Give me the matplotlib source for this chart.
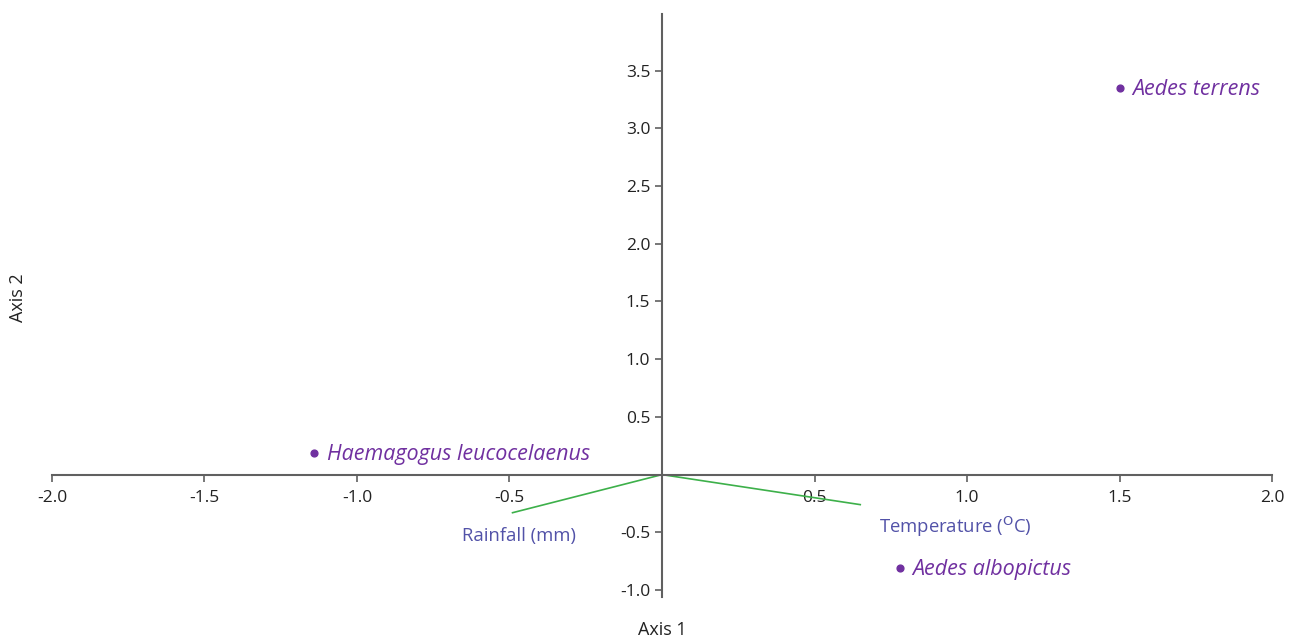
import matplotlib
matplotlib.use("Agg")
import matplotlib.pyplot as plt

# especies (puntuaciones en los ejes)
especies = ["Aedes terrens", "Haemagogus leucocelaenus", "Aedes albopictus"]
eje1 = [1.50, -1.14, 0.78]
eje2 = [3.35, 0.19, -0.81]

# variables ambientales (vectores)
variables = ["Rainfall (mm)", r"Temperature ($^{\mathrm{O}}$C)"]
var_x = [-0.49, 0.65]
var_y = [-0.33, -0.26]

xticks = [-2.0, -1.5, -1.0, -0.5, 0.5, 1.0, 1.5, 2.0]
yticks = [-1.0, -0.5, 0.5, 1.0, 1.5, 2.0, 2.5, 3.0, 3.5]

plt.rcParams["font.family"] = ["Open Sans", "DejaVu Sans"]

fig = plt.figure(figsize=(12.96, 6.4), dpi=100)
ax = fig.add_axes([0.0401, 0.0672, 0.9414, 0.911])

morado = "#7030A0"
azul = "#5252A8"
verde = "#3DB04A"
gris = "#606060"

# vectores
for vx, vy in zip(var_x, var_y):
    ax.plot([0, vx], [0, vy], color=verde, lw=1.2, zorder=2)
ax.text(-0.47, -0.53, variables[0], color=azul, fontsize=13.3, ha="center", va="center")
ax.text(0.713, -0.45, variables[1], color=azul, fontsize=13.3, ha="left", va="center")

# puntos de especies
ax.scatter(eje1, eje2, s=24, color=morado, zorder=3)
for x, y, nombre in zip(eje1, eje2, especies):
    ax.annotate(nombre, (x, y), xytext=(9, -1), textcoords="offset points",
                color=morado, fontsize=15.5, style="italic", va="center", ha="left")

ax.set_xlim(-2.0, 2.0)
ax.set_ylim(-1.06, 3.99)

ax.spines["left"].set_position(("data", 0))
ax.spines["bottom"].set_position(("data", 0))
ax.spines["right"].set_visible(False)
ax.spines["top"].set_visible(False)
for s in ["left", "bottom"]:
    ax.spines[s].set_color(gris)
    ax.spines[s].set_linewidth(1.5)

ax.set_xticks(xticks)
ax.set_xticklabels([f"{t:.1f}" for t in xticks])
ax.set_yticks(yticks)
ax.set_yticklabels([f"{t:.1f}" for t in yticks])
ax.tick_params(axis="both", colors=gris, labelcolor="#222222", labelsize=12.5,
               length=5, width=1.2, direction="out")
ax.tick_params(axis="x", pad=6)

fig.text(0.511, 0.015, "Axis 1", fontsize=13, ha="center", va="center", color="#222222")
fig.text(0.014, 0.535, "Axis 2", fontsize=13, ha="center", va="center", rotation=90, color="#222222")

fig.savefig("out.png", dpi=100)
